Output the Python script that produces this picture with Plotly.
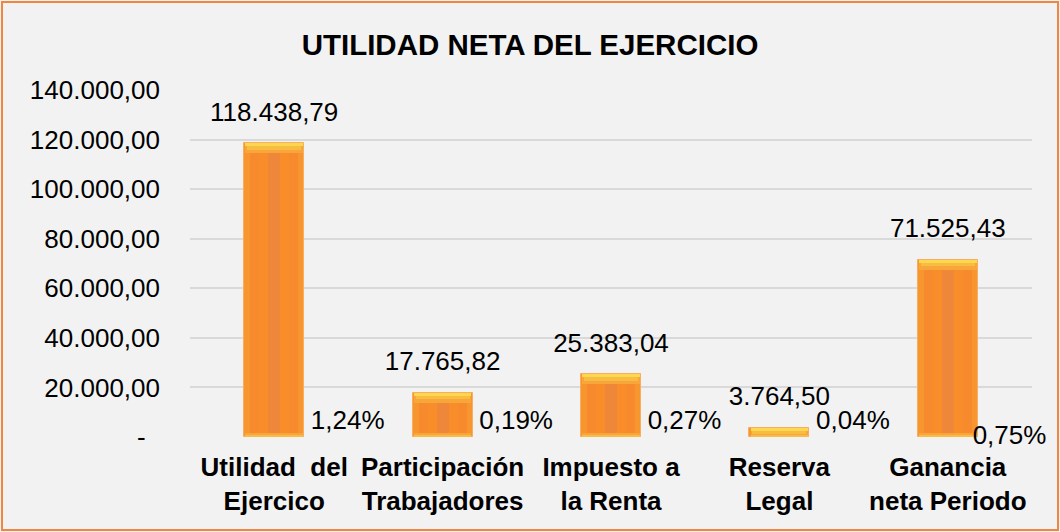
import plotly.graph_objects as go

# ---- data ----
categories = ["Utilidad\u00a0\u00a0del<br>Ejercico", "Participación<br>Trabajadores",
              "Impuesto a<br>la Renta", "Reserva<br>Legal", "Ganancia<br>neta Periodo"]
values = [118438.79, 17765.82, 25383.04, 3764.50, 71525.43]
percentages = [1.24, 0.19, 0.27, 0.04, 0.75]
y_ticks = [0, 20000, 40000, 60000, 80000, 100000, 120000, 140000]

# ---- label styling (positions, not data) ----
pct_label_positions = ["top right", "top right", "top right", "top right", "middle right"]
pct_label_dx = [0.03, 0.03, 0.03, 0.03, -0.04]


def fmt_es(v, dec=2):
    s = f"{v:,.{dec}f}"
    return s.replace(",", "X").replace(".", ",").replace("X", ".")


y_tick_text = [("-\u00a0\u00a0" if t == 0 else fmt_es(t)) for t in y_ticks]
value_text = [fmt_es(v) for v in values]
pct_text = [fmt_es(p) + "%" for p in percentages]

x = list(range(len(categories)))
W, H = 1060, 532
ML, MR, MT, MB = 190, 28, 90, 95
PW, PH = W - ML - MR, H - MT - MB
BAR_W = 0.356
FONT = "Liberation Sans, Arial, sans-serif"

fig = go.Figure()


def add_bar(y, width, color, base=None, line=None):
    fig.add_trace(go.Bar(x=x, y=y, base=base, width=width,
                         marker=dict(color=color, line=line or dict(width=0)),
                         hoverinfo="skip", showlegend=False))


# main bar body
add_bar(values, BAR_W, "#F7962F", line=dict(color="#F9AD62", width=1))
add_bar(values, BAR_W * 0.80, "#F68A2C")
add_bar(values, BAR_W * 0.50, "#F98D2A")
add_bar(values, BAR_W * 0.20, "#EE873A")

# bevel highlights derived from bar values (top and bottom)
for h_max, color, wf in [(4000, "#F8A63A", 0.96), (2600, "#F9BC43", 0.9), (1200, "#FBD84E", 0.96)]:
    hs = [min(v, h_max) for v in values]
    add_bar(hs, BAR_W * wf, color, base=[v - h for v, h in zip(values, hs)])
for h_max, color in [(1800, "#F8A63C"), (900, "#F9BC48")]:
    hs = [min(v * 0.3, h_max) for v in values]
    add_bar(hs, BAR_W * 0.96, color, base=[0] * len(values))

# value labels
fig.add_trace(go.Scatter(x=x, y=values, mode="markers+text", text=value_text,
                         textposition="top center",
                         marker=dict(size=24, opacity=0),
                         textfont=dict(family=FONT, size=26, color="#000000"),
                         hoverinfo="skip", showlegend=False, cliponaxis=False))

# percentage labels (second series)
fig.add_trace(go.Scatter(x=[i + BAR_W / 2 + d for i, d in zip(x, pct_label_dx)],
                         y=[0] * len(x), mode="markers+text",
                         text=pct_text, textposition=pct_label_positions,
                         marker=dict(size=1, opacity=0),
                         textfont=dict(family=FONT, size=26, color="#000000"),
                         hoverinfo="skip", showlegend=False, cliponaxis=False))

fig.update_layout(
    width=W, height=H,
    margin=dict(l=ML, r=MR, t=MT, b=MB, autoexpand=False),
    paper_bgcolor="#F2F2F2", plot_bgcolor="#F2F2F2",
    barmode="overlay", bargap=0,
    title=dict(text="UTILIDAD NETA DEL EJERCICIO", x=0.5, xanchor="center",
               y=1 - 45 / H, yanchor="middle", automargin=False,
               font=dict(family=FONT, size=29.5, color="#000000", weight="bold")),
    font=dict(family=FONT, size=26, color="#000000"),
    xaxis=dict(range=[-0.5, len(categories) - 0.5], tickvals=x, ticktext=categories,
               showgrid=False, zeroline=False, showline=False, ticks="",
               automargin=False, ticklabelstandoff=12,
               tickfont=dict(family=FONT, size=26, color="#000000", weight="bold")),
    yaxis=dict(range=[0, 140000], tickvals=y_ticks, ticktext=y_tick_text,
               showgrid=True, gridcolor="#D9D9D9", gridwidth=1.5, zeroline=False,
               showline=False, ticks="", ticklabelstandoff=29, automargin=False,
               tickfont=dict(family=FONT, size=26, color="#000000")),
    shapes=[dict(type="rect", xref="paper", yref="paper",
                 x0=(2 - ML) / PW, x1=(W - 2 - ML) / PW,
                 y0=(MT + PH - (H - 2)) / PH, y1=(MT + PH - 2) / PH,
                 line=dict(color="#F0863F", width=2), fillcolor="rgba(0,0,0,0)",
                 layer="above")],
)

fig.write_html("out.html", config={"displayModeBar": False},
               post_script="document.body.style.margin='0';document.body.style.padding='0';")
